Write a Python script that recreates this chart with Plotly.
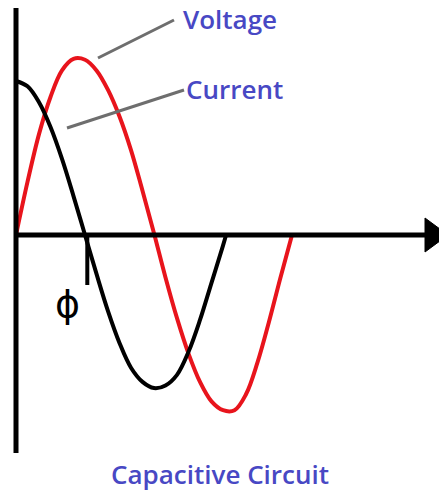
import plotly.graph_objects as go

# Phase angle (degrees) and amplitudes
voltage_deg = [0, 15, 30, 45, 60, 75, 90, 105, 120, 135, 150, 165, 180,
               195, 210, 225, 240, 255, 270, 285, 300, 315, 330, 345, 360]
voltage_val = [0.0, 0.30, 0.57, 0.78, 0.93, 0.995, 0.99, 0.93, 0.82, 0.67, 0.48, 0.25, 0.01,
               -0.24, -0.47, -0.67, -0.83, -0.94, -0.99, -0.99, -0.90, -0.72, -0.49, -0.24, 0.0]
current_deg = [0, 15, 30, 45, 60, 75, 90, 105, 120, 135, 150, 165, 180,
               195, 210, 225, 240, 255, 270, 274]
current_val = [0.87, 0.84, 0.75, 0.61, 0.43, 0.22, 0.0, -0.22, -0.43, -0.61, -0.75, -0.83, -0.865,
               -0.85, -0.79, -0.66, -0.48, -0.27, -0.06, 0.0]
phase_deg = 93

W, H = 439, 491
PX = 276 / 360.0    # pixels per degree
PY = 177.0          # pixels per unit
X0, Y0 = 16, 235    # origin in window pixels


def xd(px):
    return (px - X0) / PX


def yd(py):
    return (Y0 - py) / PY


fig = go.Figure()
fig.add_trace(go.Scatter(x=voltage_deg, y=voltage_val, mode="lines",
                         line=dict(color="#e8141c", width=4, shape="spline"),
                         hoverinfo="skip", showlegend=False))
fig.add_trace(go.Scatter(x=current_deg, y=current_val, mode="lines",
                         line=dict(color="#000000", width=4, shape="spline"),
                         hoverinfo="skip", showlegend=False))

shapes = [
    # vertical axis
    dict(type="line", x0=0, x1=0, y0=yd(8), y1=yd(453), line=dict(color="black", width=5)),
    # horizontal axis
    dict(type="line", x0=xd(14), x1=xd(430), y0=0, y1=0, line=dict(color="black", width=5)),
    # arrow head
    dict(type="path",
         path=f"M {xd(425)},{yd(218)} L {xd(448)},{yd(235)} L {xd(425)},{yd(252)} Z",
         fillcolor="black", line=dict(color="black", width=1)),
    # phase marker
    dict(type="line", x0=phase_deg, x1=phase_deg, y0=0, y1=yd(285),
         line=dict(color="black", width=4)),
    # leader lines
    dict(type="line", x0=xd(98), y0=yd(58), x1=xd(174), y1=yd(20),
         line=dict(color="#6e6e6e", width=3)),
    dict(type="line", x0=xd(67), y0=yd(128), x1=xd(184), y1=yd(90),
         line=dict(color="#6e6e6e", width=3)),
]

blue = "#4848c4"
font = dict(family="Open Sans", size=26, color=blue, weight=600)
annotations = [
    dict(x=xd(181), y=yd(19), text="Voltage", showarrow=False, xanchor="left",
         yanchor="middle", font=font),
    dict(x=xd(184), y=yd(89), text="Current", showarrow=False, xanchor="left",
         yanchor="middle", font=font),
    dict(x=xd(220), y=yd(474), text="Capacitive Circuit", showarrow=False,
         xanchor="center", yanchor="middle",
         font=dict(family="Open Sans", size=26, color=blue, weight=600)),
    dict(x=xd(67), y=yd(304), text="ϕ", showarrow=False, xanchor="center",
         yanchor="middle", font=dict(family="DejaVu Sans", size=38, color="black")),
]

fig.update_layout(
    width=W, height=H,
    margin=dict(l=0, r=0, t=0, b=0),
    paper_bgcolor="white", plot_bgcolor="white",
    xaxis=dict(range=[xd(0), xd(W)], visible=False, fixedrange=True),
    yaxis=dict(range=[yd(H), yd(0)], visible=False, fixedrange=True),
    shapes=shapes, annotations=annotations,
)

fig.write_html("out.html",
               config={"displayModeBar": False, "staticPlot": True},
               post_script="document.body.style.margin='0px';"
                           "document.body.style.overflow='hidden';")
